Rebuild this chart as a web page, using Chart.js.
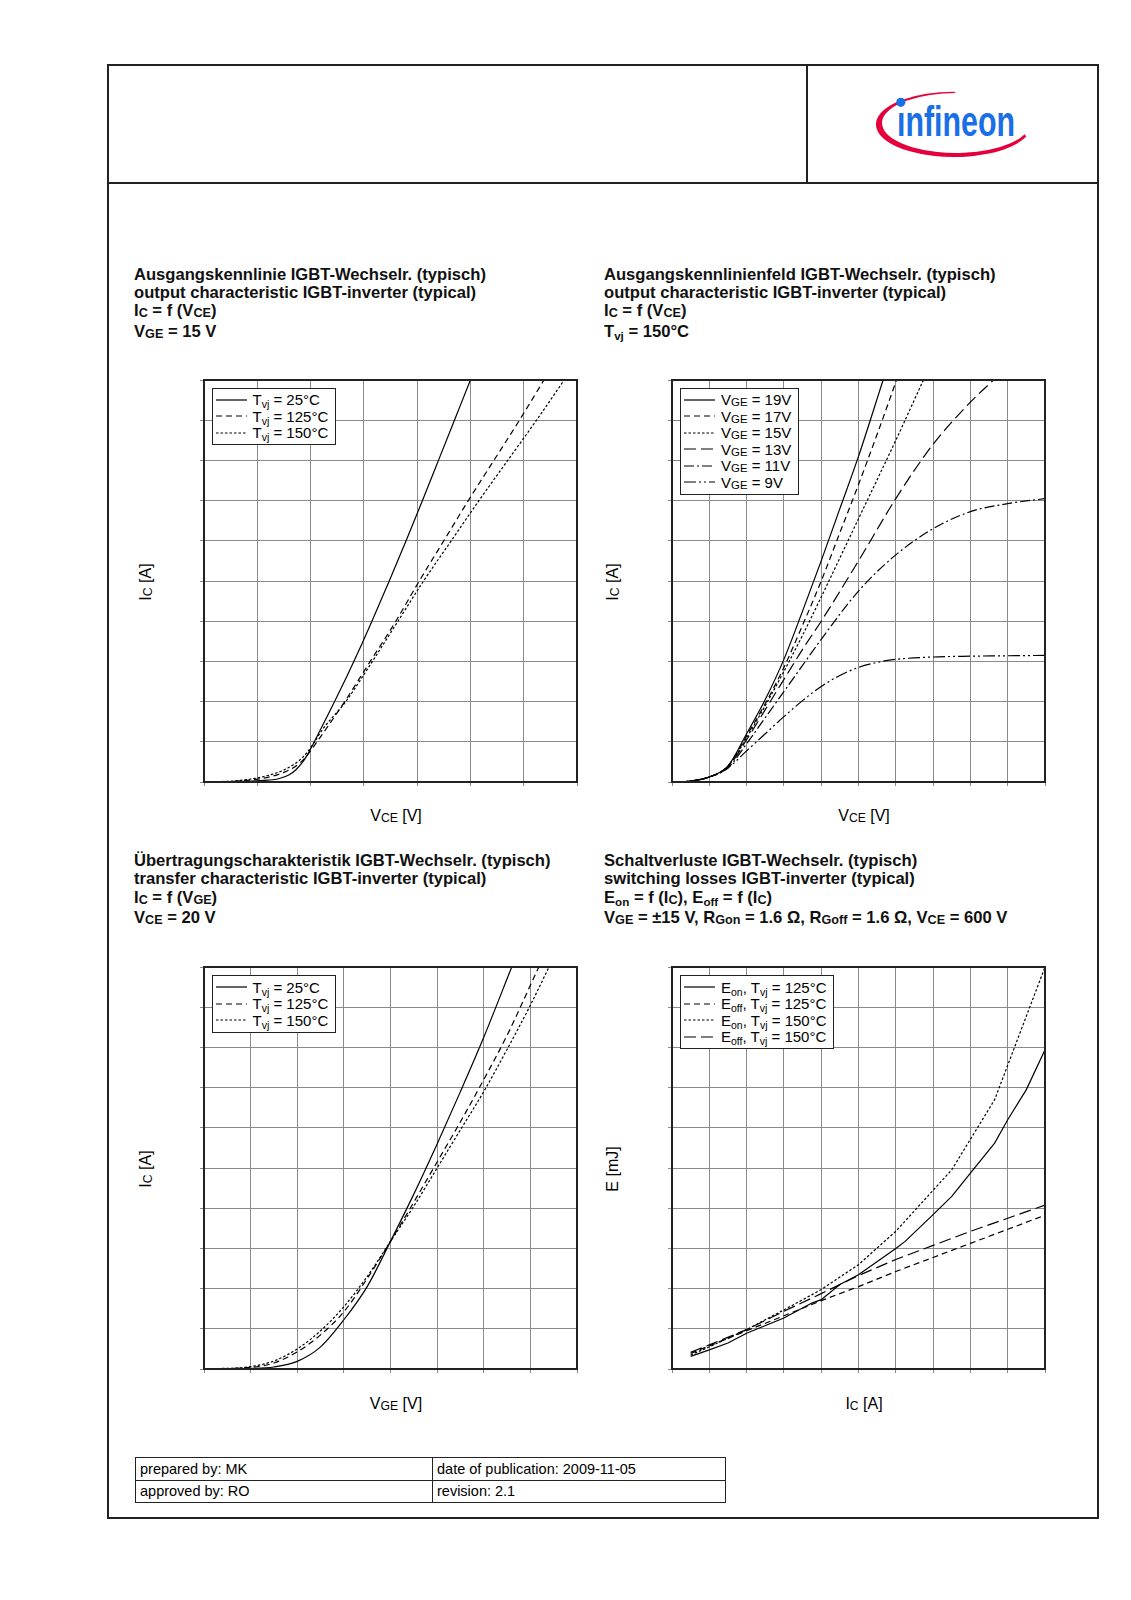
<!DOCTYPE html>
<html>
<head>
<meta charset="utf-8">
<title>IGBT-Wechselr. Kennlinien</title>
<script src="https://cdn.jsdelivr.net/npm/chart.js@4.4.1/dist/chart.umd.min.js"></script>
<style>
    body { margin: 0; background: #fff; font-family: "Liberation Sans", Arial, sans-serif; color: #000; }
    #page { position: relative; width: 1131px; height: 1600px; overflow: hidden; }
    .abs { position: absolute; }
    .title { position: absolute; font-size: 16.6px; line-height: 18.4px; font-weight: bold; white-space: nowrap; color: #111; }
    .s { font-size: 76%; vertical-align: -1px; }
    sub { font-size: 70%; vertical-align: -3px; line-height: 0; }
    canvas { position: absolute; }
    .legend { position: absolute; background: #fff; border: 1.5px solid #222; padding: 3px 7px 3px 3px; font-size: 15px; }
    .legend .row { display: flex; align-items: center; height: 16.5px; white-space: nowrap; }
    .legend svg { margin-right: 6px; flex: none; }
    .axis { position: absolute; font-size: 16px; white-space: nowrap; transform: translate(-50%, -50%); }
    .axis.rot { transform: translate(-50%, -50%) rotate(-90deg); }
    table.foot { position: absolute; left: 135px; top: 1457px; width: 591px; border-collapse: collapse; font-size: 14.5px; }
    table.foot td { border: 1px solid #222; height: 21.5px; padding: 0 0 0 4px; }
</style>
</head>
<body>
<div id="page">
    <!-- page frame and header -->
    <div class="abs" style="left:107px; top:64px; width:992px; height:1455px; border:2px solid #222; box-sizing:border-box;"></div>
    <div class="abs" style="left:107px; top:182px; width:992px; height:2px; background:#222;"></div>
    <div class="abs" style="left:806px; top:64px; width:2px; height:119px; background:#222;"></div>
    <svg class="abs" style="left:808px; top:66px;" width="289" height="116" viewBox="808 66 289 116">
        <path d="M 954 91.7 A 78 32.7 0 1 0 1026.3 136.6 L 1024.6 134.2 A 74 30 0 1 1 956 93 Z" fill="#e4003a"/>
        <text x="897" y="135.5" font-family="Liberation Sans, Arial, sans-serif" font-weight="bold" font-size="43" fill="#1a6ee6" textLength="118" lengthAdjust="spacingAndGlyphs">ınfineon</text>
        <circle cx="900.8" cy="102.3" r="4.6" fill="#1a6ee6"/>
    </svg>

    <!-- titles -->
    <div class="title" style="left:134px; top:265.5px;">
        Ausgangskennlinie IGBT-Wechselr. (typisch)<br>
        output characteristic IGBT-inverter (typical)<br>
        I<span class="s">C</span> = f (V<span class="s">CE</span>)<br>
        V<span class="s">GE</span> = 15 V
    </div>
    <div class="title" style="left:604px; top:265.5px;">
        Ausgangskennlinienfeld IGBT-Wechselr. (typisch)<br>
        output characteristic IGBT-inverter (typical)<br>
        I<span class="s">C</span> = f (V<span class="s">CE</span>)<br>
        T<sub>vj</sub> = 150°C
    </div>
    <div class="title" style="left:134px; top:852px;">
        Übertragungscharakteristik IGBT-Wechselr. (typisch)<br>
        transfer characteristic IGBT-inverter (typical)<br>
        I<span class="s">C</span> = f (V<span class="s">GE</span>)<br>
        V<span class="s">CE</span> = 20 V
    </div>
    <div class="title" style="left:604px; top:852px;">
        Schaltverluste IGBT-Wechselr. (typisch)<br>
        switching losses IGBT-inverter (typical)<br>
        E<sub>on</sub> = f (I<span class="s">C</span>), E<sub>off</sub> = f (I<span class="s">C</span>)<br>
        V<span class="s">GE</span> = ±15 V, R<span class="s">Gon</span> = 1.6 Ω, R<span class="s">Goff</span> = 1.6 Ω, V<span class="s">CE</span> = 600 V
    </div>

    <!-- charts: plot areas are 373 x 402, canvas adds 10px round it -->
    <canvas id="outChart" width="393" height="422" style="left:194px; top:370px;"></canvas>
    <canvas id="fieldChart" width="393" height="422" style="left:662px; top:370px;"></canvas>
    <canvas id="transChart" width="393" height="422" style="left:194px; top:957px;"></canvas>
    <canvas id="swChart" width="393" height="422" style="left:662px; top:957px;"></canvas>

    <div id="outLegend" class="legend" style="left:211.5px; top:387.5px;"></div>
    <div id="fieldLegend" class="legend" style="left:680px; top:387.5px;"></div>
    <div id="transLegend" class="legend" style="left:211.5px; top:975px;"></div>
    <div id="swLegend" class="legend" style="left:680px; top:975px;"></div>

    <!-- axis titles -->
    <div class="axis" style="left:396px; top:815.6px;">V<span class="s">CE</span> [V]</div>
    <div class="axis" style="left:864px; top:815.6px;">V<span class="s">CE</span> [V]</div>
    <div class="axis" style="left:396px; top:1403.6px;">V<span class="s">GE</span> [V]</div>
    <div class="axis" style="left:864px; top:1403.6px;">I<span class="s">C</span> [A]</div>
    <div class="axis rot" style="left:146px; top:582px;">I<span class="s">C</span> [A]</div>
    <div class="axis rot" style="left:612.5px; top:582px;">I<span class="s">C</span> [A]</div>
    <div class="axis rot" style="left:146px; top:1168.8px;">I<span class="s">C</span> [A]</div>
    <div class="axis rot" style="left:612.5px; top:1168.8px;">E [mJ]</div>

    <table class="foot">
        <tr><td style="width:292px;">prepared by: MK</td><td>date of publication: 2009-11-05</td></tr>
        <tr><td>approved by: RO</td><td>revision: 2.1</td></tr>
    </table>
</div>

<script>
// axis ranges [min, max, step]
const outX = [0, 3.5, 0.5];
const fieldX = [0, 5, 0.5];
const transX = [5, 13, 1];
const currentY = [0, 200, 20];
const swX = [0, 200, 20];
const swY = [0, 20, 2];

// output characteristic, VGE = 15 V
const outVce25 = [0, 0.3, 0.5, 0.6, 0.7, 0.8, 0.86, 0.92, 0.97, 1.03, 1.13, 1.23, 1.34, 1.45, 1.6, 1.75, 1.9, 2.05, 2.2, 2.35, 2.5];
const outIc25 = [0, 0.2, 0.6, 0.9, 1.6, 3.6, 6, 9.5, 13.5, 19.5, 30, 40.5, 52.5, 65, 83, 101.5, 120.5, 140, 160, 180, 200];
const outVce125 = [0, 0.3, 0.5, 0.65, 0.75, 0.85, 0.93, 1.0, 1.06, 1.14, 1.32, 1.56, 1.8, 2.02, 2.25, 2.48, 2.72, 2.96, 3.19];
const outIc125 = [0, 0.4, 1.4, 3, 4.8, 7.5, 11, 15.5, 20, 26, 40, 60, 80, 100, 120, 140, 160, 180, 200];
const outVce150 = [0, 0.3, 0.5, 0.65, 0.75, 0.85, 0.93, 1.0, 1.11, 1.33, 1.58, 1.82, 2.06, 2.32, 2.58, 2.85, 3.12, 3.38];
const outIc150 = [0, 0.6, 2, 4, 6, 9, 12.5, 17, 26, 40, 60, 80, 100, 120, 140, 160, 180, 200];
const outLegend = ['T<sub>vj</sub> = 25°C', 'T<sub>vj</sub> = 125°C', 'T<sub>vj</sub> = 150°C'];

// output characteristic field, Tvj = 150°C
const fieldV19 = [0, 0.25, 0.5, 0.75, 1.0, 1.25, 1.5, 1.75, 2.0, 2.25, 2.5, 2.83];
const fieldI19 = [0, 0.5, 2.5, 8, 24, 41, 61, 85, 110, 136, 162, 200];
const fieldV17 = [0, 0.25, 0.5, 0.75, 1.0, 1.25, 1.5, 1.75, 2.0, 2.25, 2.5, 2.75, 3.01];
const fieldI17 = [0, 0.5, 2.5, 8, 23, 39, 57, 78, 100, 124, 148, 173, 200];
const fieldV15 = [0, 0.25, 0.5, 0.75, 1.0, 1.25, 1.5, 1.75, 2.0, 2.5, 3.0, 3.37];
const fieldI15 = [0, 0.5, 2.5, 7.8, 22, 38, 55, 73, 92, 131, 170, 200];
const fieldV13 = [0, 0.25, 0.5, 0.75, 1.0, 1.25, 1.5, 1.75, 2.0, 2.5, 3.0, 3.5, 4.0, 4.31];
const fieldI13 = [0, 0.5, 2.5, 7.5, 21, 36, 51, 66, 80, 110, 141, 168, 189, 200];
const fieldV11 = [0, 0.25, 0.5, 0.75, 1.0, 1.25, 1.5, 1.75, 2.0, 2.5, 3.0, 3.5, 4.0, 4.5, 5.0];
const fieldI11 = [0, 0.5, 2.5, 7, 19, 32, 45, 58, 71, 95, 113, 126, 134.5, 138.5, 141];
const fieldV9 = [0, 0.25, 0.5, 0.75, 1.0, 1.25, 1.5, 1.75, 2.0, 2.25, 2.5, 2.75, 3.0, 3.5, 4.0, 4.5, 5.0];
const fieldI9 = [0, 0.5, 2.5, 7, 15.5, 24, 32.5, 40.5, 47.5, 53, 57, 59.5, 61, 62.2, 62.6, 62.8, 63];
const fieldLegend = ['V<span class="s">GE</span> = 19V', 'V<span class="s">GE</span> = 17V', 'V<span class="s">GE</span> = 15V',
    'V<span class="s">GE</span> = 13V', 'V<span class="s">GE</span> = 11V', 'V<span class="s">GE</span> = 9V'];

// transfer characteristic, VCE = 20 V
const transVge25 = [5, 6, 6.5, 7, 7.5, 8, 8.5, 9, 9.5, 10, 10.5, 11, 11.6];
const transIc25 = [0, 0.3, 1, 3.8, 11, 24.5, 41, 63.5, 87, 112, 138, 165, 200];
const transVge125 = [5, 6, 6.5, 7, 7.5, 8, 8.5, 9, 9.5, 10, 10.5, 11, 11.5, 12.18];
const transIc125 = [0, 0.8, 3, 8.5, 17, 28.5, 45, 63.5, 83, 103, 123, 144, 166, 200];
const transVge150 = [5, 6, 6.5, 7, 7.5, 8, 8.5, 9, 9.5, 10, 10.5, 11, 11.5, 12, 12.4];
const transIc150 = [0, 1.2, 4, 10, 19, 31, 46, 63.5, 81, 100, 119, 138, 159, 181, 200];
const transLegend = outLegend;

// switching losses
const swIcEon125 = [10, 20, 30, 40, 60, 75, 80, 90, 100, 120, 125, 140, 150, 160, 173, 180, 190, 200];
const swEon125 = [0.63, 0.95, 1.29, 1.78, 2.54, 3.28, 3.45, 4.2, 4.69, 6.0, 6.35, 7.68, 8.59, 9.75, 11.24, 12.4, 13.9, 15.88];
const swIcEoff125 = [10, 20, 40, 60, 80, 100, 120, 140, 160, 180, 200];
const swEoff125 = [0.78, 1.15, 1.9, 2.65, 3.4, 4.1, 4.85, 5.55, 6.25, 6.95, 7.65];
const swIcEon150 = [10, 20, 40, 60, 80, 100, 120, 150, 173, 200];
const swEon150 = [0.7, 1.1, 1.96, 2.94, 3.95, 5.19, 6.85, 9.91, 13.4, 20];
const swIcEoff150 = [10, 20, 40, 60, 80, 100, 120, 140, 160, 180, 200];
const swEoff150 = [0.83, 1.2, 1.96, 2.87, 3.75, 4.65, 5.45, 6.15, 6.85, 7.5, 8.15];
const swLegend = ['E<sub>on</sub>, T<sub>vj</sub> = 125°C', 'E<sub>off</sub>, T<sub>vj</sub> = 125°C',
    'E<sub>on</sub>, T<sub>vj</sub> = 150°C', 'E<sub>off</sub>, T<sub>vj</sub> = 150°C'];

// line styles
const SOLID = [];
const DASH = [6, 4];
const DOT = [2.5, 2];
const LONGDASH = [12, 5];
const DASHDOT = [10, 3, 2, 3];
const DASHDOTDOT = [12, 3, 2, 3, 2, 3];

document.addEventListener('DOMContentLoaded', function() {
    // Draws the dark frame round the plot area
    const framePlugin = {
        id: 'frame',
        afterDatasetsDraw(chart) {
            const a = chart.chartArea;
            const ctx = chart.ctx;
            ctx.save();
            ctx.strokeStyle = '#222';
            ctx.lineWidth = 2;
            ctx.strokeRect(a.left, a.top, a.right - a.left, a.bottom - a.top);
            ctx.restore();
        }
    };

    function series(label, xs, ys, dash) {
        return { label: label, x: xs, y: ys, dash: dash };
    }

    function axis(r) {
        return {
            type: 'linear',
            min: r[0],
            max: r[1],
            ticks: { display: false, stepSize: r[2] },
            grid: { color: '#8a8a8a', lineWidth: 1, tickLength: 4 },
            border: { display: false }
        };
    }

    function makeChart(id, xr, yr, list, smooth) {
        return new Chart(document.getElementById(id), {
            type: 'line',
            data: {
                datasets: list.map(s => ({
                    label: s.label.replace(/<[^>]+>/g, ''),
                    data: s.x.map((v, i) => ({ x: v, y: s.y[i] })),
                    borderColor: '#000',
                    borderWidth: 1.2,
                    borderDash: s.dash,
                    pointRadius: 0,
                    fill: false,
                    tension: 0,
                    cubicInterpolationMode: smooth ? 'monotone' : 'default'
                }))
            },
            options: {
                responsive: false,
                animation: false,
                devicePixelRatio: 1,
                layout: { padding: { left: 6, top: 10, right: 10, bottom: 6 } },
                plugins: {
                    legend: { display: false },
                    tooltip: { enabled: false }
                },
                scales: {
                    x: axis(xr),
                    y: axis(yr)
                }
            },
            plugins: [framePlugin]
        });
    }

    // HTML legend so the subscripts stay real text
    function buildLegend(chart, elId, labels) {
        const box = document.getElementById(elId);
        box.innerHTML = chart.data.datasets.map((ds, i) => {
            const dash = ds.borderDash.length ? ' stroke-dasharray="' + ds.borderDash.join(' ') + '"' : '';
            return '<div class="row"><svg width="31" height="10"><line x1="0" y1="5" x2="31" y2="5" stroke="#000" stroke-width="1.2"' +
                dash + '/></svg><span>' + labels[i] + '</span></div>';
        }).join('');
    }

    const outChart = makeChart('outChart', outX, currentY, [
        series(outLegend[0], outVce25, outIc25, SOLID),
        series(outLegend[1], outVce125, outIc125, DASH),
        series(outLegend[2], outVce150, outIc150, DOT)
    ], true);
    buildLegend(outChart, 'outLegend', outLegend);

    const fieldChart = makeChart('fieldChart', fieldX, currentY, [
        series(fieldLegend[0], fieldV19, fieldI19, SOLID),
        series(fieldLegend[1], fieldV17, fieldI17, DASH),
        series(fieldLegend[2], fieldV15, fieldI15, DOT),
        series(fieldLegend[3], fieldV13, fieldI13, LONGDASH),
        series(fieldLegend[4], fieldV11, fieldI11, DASHDOT),
        series(fieldLegend[5], fieldV9, fieldI9, DASHDOTDOT)
    ], true);
    buildLegend(fieldChart, 'fieldLegend', fieldLegend);

    const transChart = makeChart('transChart', transX, currentY, [
        series(transLegend[0], transVge25, transIc25, SOLID),
        series(transLegend[1], transVge125, transIc125, DASH),
        series(transLegend[2], transVge150, transIc150, DOT)
    ], true);
    buildLegend(transChart, 'transLegend', transLegend);

    const swChart = makeChart('swChart', swX, swY, [
        series(swLegend[0], swIcEon125, swEon125, SOLID),
        series(swLegend[1], swIcEoff125, swEoff125, DASH),
        series(swLegend[2], swIcEon150, swEon150, DOT),
        series(swLegend[3], swIcEoff150, swEoff150, LONGDASH)
    ], false);
    buildLegend(swChart, 'swLegend', swLegend);
});
</script>
</body>
</html>
